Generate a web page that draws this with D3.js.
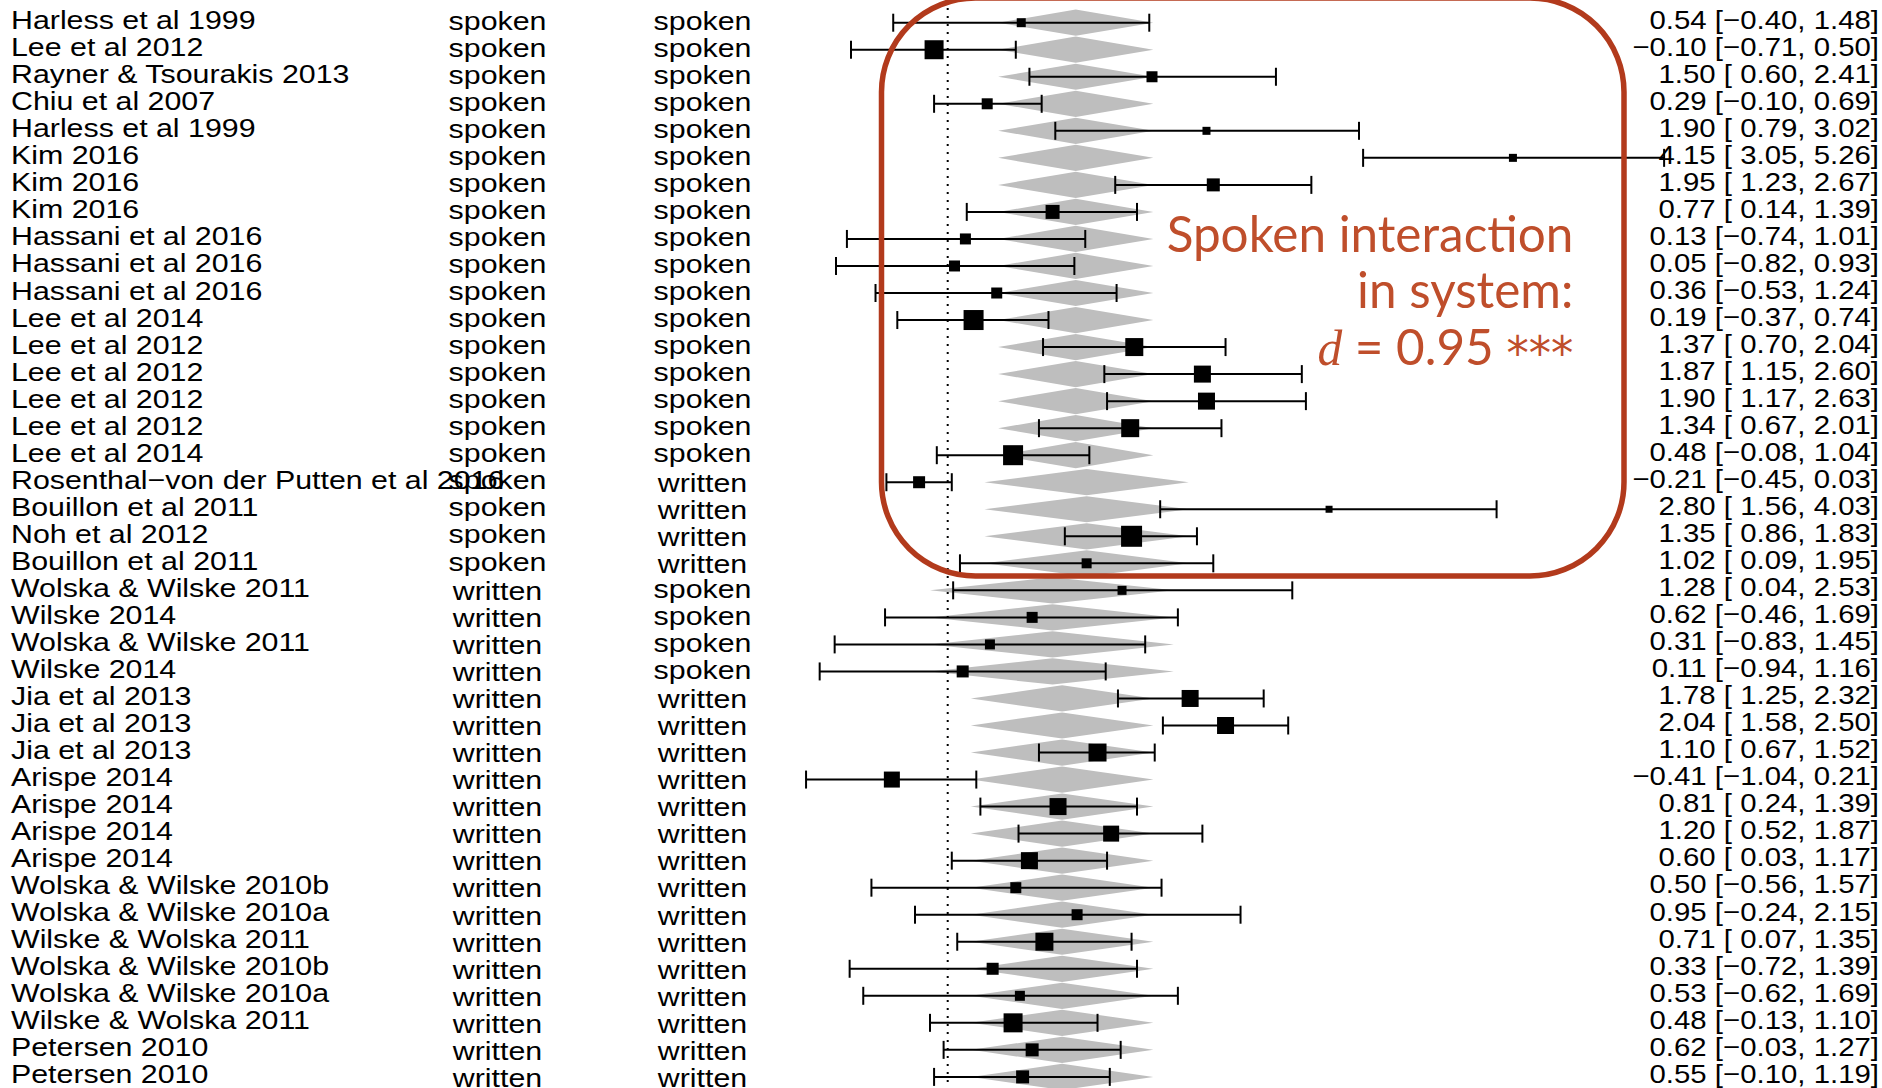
<!DOCTYPE html>
<html>
<head>
<meta charset="utf-8">
<script src="https://d3js.org/d3.v7.min.js"></script>
<style>
    body { margin: 0; background: #fff; }
    svg { display: block; }
    .lbl { font-family: "Liberation Sans", Arial, Helvetica, sans-serif; font-size: 26px; fill: #000; }
</style>
</head>
<body>
<div id="forest"></div>
<script>
var svgWidth = 1882;
var svgHeight = 1088;

// study rows, top to bottom
var studies = ["Harless et al 1999", "Lee et al 2012", "Rayner & Tsourakis 2013", "Chiu et al 2007",
    "Harless et al 1999", "Kim 2016", "Kim 2016", "Kim 2016", "Hassani et al 2016", "Hassani et al 2016",
    "Hassani et al 2016", "Lee et al 2014", "Lee et al 2012", "Lee et al 2012", "Lee et al 2012",
    "Lee et al 2012", "Lee et al 2014", "Rosenthal\u2212von der Putten et al 2016", "Bouillon et al 2011",
    "Noh et al 2012", "Bouillon et al 2011", "Wolska & Wilske 2011", "Wilske 2014", "Wolska & Wilske 2011",
    "Wilske 2014", "Jia et al 2013", "Jia et al 2013", "Jia et al 2013", "Arispe 2014", "Arispe 2014",
    "Arispe 2014", "Arispe 2014", "Wolska & Wilske 2010b", "Wolska & Wilske 2010a", "Wilske & Wolska 2011",
    "Wolska & Wilske 2010b", "Wolska & Wilske 2010a", "Wilske & Wolska 2011", "Petersen 2010", "Petersen 2010"];
var systemMode = ["spoken", "spoken", "spoken", "spoken", "spoken", "spoken", "spoken", "spoken", "spoken", "spoken",
    "spoken", "spoken", "spoken", "spoken", "spoken", "spoken", "spoken", "spoken", "spoken", "spoken",
    "spoken", "written", "written", "written", "written", "written", "written", "written", "written", "written",
    "written", "written", "written", "written", "written", "written", "written", "written", "written", "written"];
var userMode = ["spoken", "spoken", "spoken", "spoken", "spoken", "spoken", "spoken", "spoken", "spoken", "spoken",
    "spoken", "spoken", "spoken", "spoken", "spoken", "spoken", "spoken", "written", "written", "written",
    "written", "spoken", "spoken", "spoken", "spoken", "written", "written", "written", "written", "written",
    "written", "written", "written", "written", "written", "written", "written", "written", "written", "written"];
var estimates = [0.54, -0.10, 1.50, 0.29, 1.90, 4.15, 1.95, 0.77, 0.13, 0.05,
    0.36, 0.19, 1.37, 1.87, 1.90, 1.34, 0.48, -0.21, 2.80, 1.35,
    1.02, 1.28, 0.62, 0.31, 0.11, 1.78, 2.04, 1.10, -0.41, 0.81,
    1.20, 0.60, 0.50, 0.95, 0.71, 0.33, 0.53, 0.48, 0.62, 0.55];
var lowers = [-0.40, -0.71, 0.60, -0.10, 0.79, 3.05, 1.23, 0.14, -0.74, -0.82,
    -0.53, -0.37, 0.70, 1.15, 1.17, 0.67, -0.08, -0.45, 1.56, 0.86,
    0.09, 0.04, -0.46, -0.83, -0.94, 1.25, 1.58, 0.67, -1.04, 0.24,
    0.52, 0.03, -0.56, -0.24, 0.07, -0.72, -0.62, -0.13, -0.03, -0.10];
var uppers = [1.48, 0.50, 2.41, 0.69, 3.02, 5.26, 2.67, 1.39, 1.01, 0.93,
    1.24, 0.74, 2.04, 2.60, 2.63, 2.01, 1.04, 0.03, 4.03, 1.83,
    1.95, 2.53, 1.69, 1.45, 1.16, 2.32, 2.50, 1.52, 0.21, 1.39,
    1.87, 1.17, 1.57, 2.15, 1.35, 1.39, 1.69, 1.10, 1.27, 1.19];
// relative study weights (square size)
var weights = [9, 19, 11, 11, 8, 8, 13, 14, 11, 11,
    11, 20, 18, 17, 17, 18, 20, 12, 7, 21,
    10, 9, 11, 10, 12, 17, 17, 18, 16, 17,
    16, 17, 11, 11, 18, 12, 10, 19, 13, 13];

// fitted values of the moderator model, per system/user combination
var fitGroups = ["spoken|spoken", "spoken|written", "written|spoken", "written|written"];
var fitValues = [0.94, 1.02, 0.77, 0.84];
var fitLowers = [0.37, 0.27, -0.13, 0.17];
var fitUppers = [1.51, 1.77, 1.66, 1.51];

var noteLines = ["Spoken interaction", "in system:"];
var noteEffect = "0.95";
var noteStars = "***";

var x = d3.scaleLinear().domain([0, 1]).range([947.7, 1083.9]);
var y = d3.scalePoint().domain(d3.range(studies.length)).range([22.7, 1076.9]);
var size = d3.scaleLinear().domain([0, d3.max(weights)]).range([0, 21]);
var red = "#b23a1c";

$ready = function (fn) { document.readyState !== "loading" ? fn() : document.addEventListener("DOMContentLoaded", fn); };
$ready(main);

function fmt(v) {
    return (v < 0 ? "\u2212" : "") + Math.abs(v).toFixed(2);
}
function pad(v) {
    return (v < 0 ? "" : " ") + fmt(v);
}

function main() {
    var rows = studies.map(function (s, i) {
        return {i: i, study: s, sys: systemMode[i], usr: userMode[i],
            est: estimates[i], lo: lowers[i], hi: uppers[i], w: weights[i]};
    });
    var fits = {};
    fitGroups.forEach(function (g, k) { fits[g] = {est: fitValues[k], lo: fitLowers[k], hi: fitUppers[k]}; });

    var svg = d3.select("#forest").append("svg")
        .attr("width", svgWidth)
        .attr("height", svgHeight);

    var half = y.step() / 2 * 0.97;
    // grey prediction diamonds
    svg.append("g").selectAll(".fit")
        .data(rows)
        .enter().append("polygon")
        .attr("class", "fit")
        .attr("fill", "#bebebe")
        .attr("points", function (d) {
            var f = fits[d.sys + "|" + d.usr], yy = y(d.i);
            return [[x(f.lo), yy], [x(f.est), yy - half], [x(f.hi), yy], [x(f.est), yy + half]].join(" ");
        });

    // reference line at 0
    svg.append("line")
        .attr("x1", x(0)).attr("x2", x(0))
        .attr("y1", 8).attr("y2", svgHeight)
        .attr("stroke", "#000")
        .attr("stroke-width", 2)
        .attr("stroke-dasharray", "2 6");

    var ci = svg.append("g").selectAll(".ci")
        .data(rows)
        .enter().append("g")
        .attr("class", "ci")
        .attr("transform", d => "translate(0," + y(d.i) + ")")
        .attr("stroke", "#000")
        .attr("stroke-width", 2);
    ci.append("line")
        .attr("x1", d => x(d.lo)).attr("x2", d => x(d.hi))
        .attr("y1", 0).attr("y2", 0);
    ci.append("line")
        .attr("x1", d => x(d.lo)).attr("x2", d => x(d.lo))
        .attr("y1", -9).attr("y2", 9);
    ci.append("line")
        .attr("x1", d => x(d.hi)).attr("x2", d => x(d.hi))
        .attr("y1", -9).attr("y2", 9);
    svg.append("g").selectAll(".pt")
        .data(rows)
        .enter().append("rect")
        .attr("class", "pt")
        .attr("fill", "#000")
        .attr("x", d => x(d.est) - size(d.w) / 2)
        .attr("y", d => y(d.i) - size(d.w) / 2)
        .attr("width", d => size(d.w))
        .attr("height", d => size(d.w));

    // text columns
    var txt = svg.append("g").attr("class", "lbl");
    function column(key, xpos, anchor, dy, sx) {
        txt.append("g").selectAll("text")
            .data(rows)
            .enter().append("text")
            .attr("transform", d => "translate(" + xpos + "," + (y(d.i) + (typeof dy === "function" ? dy(d[key]) : dy)) + ") scale(" + sx + ",1)")
            .attr("text-anchor", anchor)
            .text(d => d[key]);
    }
    var centred = s => /[gjpqy]/.test(s) ? 7.2 : 9.8;
    column("study", 11, "start", 6.5, 1.167);
    column("sys", 497.5, "middle", centred, 1.167);
    column("usr", 702.5, "middle", centred, 1.167);
    rows.forEach(function (d) { d.label = fmt(d.est) + " [" + pad(d.lo) + ", " + fmt(d.hi) + "]"; });
    column("label", 1879, "end", 5.8, 1.13);

    // highlight box
    svg.append("rect")
        .attr("x", 881.5)
        .attr("y", -2)
        .attr("width", 1624 - 881.5)
        .attr("height", 578)
        .attr("rx", 94)
        .attr("ry", 94)
        .attr("fill", "none")
        .attr("stroke", red)
        .attr("stroke-width", 5.5);

    var note = svg.append("g")
        .attr("fill", "#bf4e2b")
        .style("font-family", "Lato, 'Open Sans', sans-serif")
        .style("font-size", "51px");
    var t1 = note.append("text").attr("text-anchor", "end").text(noteLines[0]);
    var t2 = note.append("text").attr("text-anchor", "end").text(noteLines[1]);
    var t3 = note.append("text").attr("text-anchor", "end");
    t3.append("tspan")
        .style("font-family", "'Liberation Serif', 'DejaVu Serif', serif")
        .style("font-style", "italic")
        .text("d");
    t3.append("tspan").text(" = " + noteEffect + " ");
    t3.append("tspan")
        .style("font-family", "'DejaVu Sans', sans-serif")
        .style("font-size", "46px")
        .attr("dy", 4)
        .text(noteStars);
    var sx = 406.7 / t1.node().getComputedTextLength();
    [[t1, 251.7], [t2, 308.3], [t3, 365]].forEach(function (p) {
        p[0].attr("transform", "translate(1573.3," + p[1] + ") scale(" + sx + ",1)");
    });
}
</script>
</body>
</html>
